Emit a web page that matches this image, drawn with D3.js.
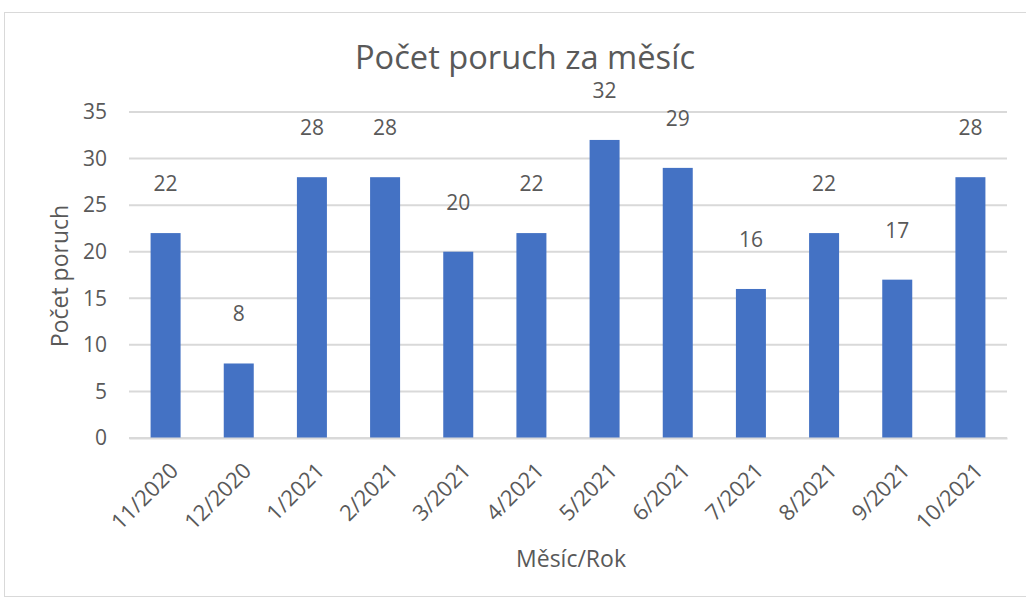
<!DOCTYPE html>
<html>
<head>
<meta charset="utf-8">
<script src="https://cdn.jsdelivr.net/npm/d3@7"></script>
<style>
  body { margin: 0; background: #fff; }
  text { font-family: "Open Sans", "Noto Sans", sans-serif; fill: #595959; }
</style>
</head>
<body>
<div id="chart"></div>
<script>
// data
const months = ["11/2020", "12/2020", "1/2021", "2/2021", "3/2021", "4/2021",
  "5/2021", "6/2021", "7/2021", "8/2021", "9/2021", "10/2021"];
const failures = [22, 8, 28, 28, 20, 22, 32, 29, 16, 22, 17, 28];
const yTicks = [0, 5, 10, 15, 20, 25, 30, 35];

const width = 1026, height = 599;
const margin = { top: 112, right: 19, bottom: 161, left: 129 };
const innerW = width - margin.left - margin.right,
  innerH = height - margin.top - margin.bottom;

const svg = d3.select("#chart").append("svg")
  .attr("width", width)
  .attr("height", height);

// outer chart border
svg.append("rect")
  .attr("x", 4.5).attr("y", 12.5)
  .attr("width", 1040).attr("height", 584)
  .attr("fill", "none")
  .attr("stroke", "#d9d9d9");

const g = svg.append("g")
  .attr("transform", "translate(" + margin.left + "," + margin.top + ")");

const x = d3.scaleBand().domain(months).range([0, innerW])
  .paddingInner(0.59).paddingOuter(0.295);
const y = d3.scaleLinear().domain([0, 35]).range([innerH, 0]);

// gridlines
g.append("g")
  .selectAll("line")
  .data(yTicks)
  .enter().append("line")
  .attr("x1", 0).attr("x2", innerW)
  .attr("y1", d => y(d)).attr("y2", d => y(d))
  .attr("stroke", "#d9d9d9")
  .attr("stroke-width", 2);

// y axis labels
const yAxis = d3.axisLeft(y).tickValues(yTicks).tickSize(0).tickPadding(22);
g.append("g").call(yAxis)
  .call(s => s.select(".domain").remove())
  .selectAll("text")
  .style("font-size", "21px")
  .attr("fill", "#595959");

// bars
g.selectAll(".bar")
  .data(failures)
  .enter().append("rect")
  .attr("class", "bar")
  .attr("x", (d, i) => x(months[i]))
  .attr("width", x.bandwidth())
  .attr("y", d => y(d))
  .attr("height", d => innerH - y(d))
  .attr("fill", "#4472c4");

// value labels
g.selectAll(".val")
  .data(failures)
  .enter().append("text")
  .attr("class", "val")
  .attr("text-anchor", "middle")
  .attr("x", (d, i) => x(months[i]) + x.bandwidth() / 2)
  .attr("y", d => y(d) - 42)
  .style("font-size", "21px")
  .attr("fill", "#404040")
  .text(d => d);

// x axis
const xAxis = d3.axisBottom(x).tickSize(0).tickPadding(0);
const xg = g.append("g")
  .attr("transform", "translate(0," + innerH + ")")
  .call(xAxis);
xg.select(".domain").attr("stroke", "#d9d9d9").attr("stroke-width", 2);
xg.selectAll("text")
  .style("font-size", "22px")
  .attr("fill", "#595959")
  .attr("text-anchor", "end")
  .attr("dy", 0)
  .attr("transform", "translate(14,34) rotate(-45)");

// title
svg.append("text")
  .attr("x", 525).attr("y", 69)
  .attr("text-anchor", "middle")
  .attr("textLength", 340)
  .attr("lengthAdjust", "spacingAndGlyphs")
  .style("font-size", "32px")
  .text("Počet poruch za měsíc");

// axis titles
svg.append("text")
  .attr("transform", "translate(68,276) rotate(-90)")
  .attr("text-anchor", "middle")
  .style("font-size", "23px")
  .text("Počet poruch");

svg.append("text")
  .attr("x", 571).attr("y", 567)
  .attr("text-anchor", "middle")
  .style("font-size", "23px")
  .text("Měsíc/Rok");
</script>
</body>
</html>
